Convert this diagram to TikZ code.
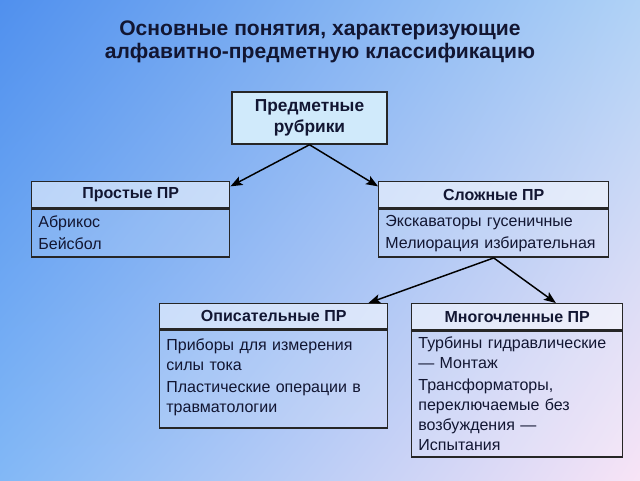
\documentclass[tikz,border=0pt]{standalone}
\usepackage{fontspec}
\setmainfont{Liberation Sans}
\usepackage{xcolor}
\usetikzlibrary{arrows,arrows.meta,positioning,calc,shadings}
\definecolor{bgul}{RGB}{80,144,238}
\definecolor{bgur}{RGB}{176,210,246}
\definecolor{bgll}{RGB}{130,184,246}
\definecolor{bglr}{RGB}{248,228,246}
\definecolor{inkblue}{RGB}{18,22,50}
\definecolor{rootfill}{RGB}{208,234,251}
\tikzset{
  basenode/.style = {draw=black!85, line width=1.1pt, text=inkblue, text opacity=1},
  root_node/.style = {basenode, rectangle, fill=rootfill, align=center, minimum width=116.25pt, minimum height=39pt,
                      font=\fontsize{13}{15.75}\selectfont\bfseries},
  hdr_node/.style = {basenode, rectangle, fill=white, fill opacity=0.55, anchor=north west, inner sep=0pt,
                     minimum height=19.5pt, font=\fontsize{12}{14}\selectfont\bfseries},
  body_node/.style = {basenode, rectangle, fill=white, fill opacity=0.14, align=left, inner xsep=5pt, inner ysep=3pt,
                      font=\fontsize{12}{15}\selectfont},
  link/.style = {-{Stealth[length=9pt,width=7pt,inset=2pt]}, line width=1.1pt, black},
}
\begin{document}
\begin{tikzpicture}[x=0.75pt,y=-0.75pt]
    \shade[upper left=bgul, upper right=bgur, lower left=bgll, lower right=bglr] (0,0) rectangle (640,480);
    \useasboundingbox (0,0) rectangle (640,480);
    \node [align=center, text=inkblue, font=\fontsize{15.8}{17.25}\selectfont\bfseries] (title) at (320,42)
        {Основные понятия, характеризующие\\алфавитно-предметную классификацию};
    \node [root_node] (root) at (309.5,118) {Предметные\\рубрики};

    \node [hdr_node, minimum width=148.5pt] (simple_hdr) at (31,181) {Простые ПР};
    \node [body_node, below=0pt of simple_hdr, text width=138.5pt, minimum height=36pt] (simple_body)
        {Абрикос\\[1.5pt]Бейсбол};

    \node [hdr_node, minimum width=172.5pt] (complex_hdr) at (378,181) {Сложные ПР};
    \node [body_node, below=0pt of complex_hdr, text width=162.5pt, minimum height=36pt] (complex_body)
        {Экскаваторы гусеничные\\[1.5pt]Мелиорация избирательная};

    \node [hdr_node, minimum width=171pt, minimum height=18.75pt] (descr_hdr) at (159,303) {Описательные ПР};
    \node [body_node, below=0pt of descr_hdr, text width=161pt, minimum height=73.5pt] (descr_body)
        {Приборы для измерения\\силы тока\\[1.5pt]Пластические операции в\\травматологии\\[-9pt]\mbox{}};

    \node [hdr_node, minimum width=158.25pt] (multi_hdr) at (411,303) {Многочленные ПР};
    \node [body_node, below=0pt of multi_hdr, text width=148.25pt, minimum height=94.5pt] (multi_body)
        {Турбины гидравлические\\--- Монтаж\\[1.5pt]Трансформаторы,\\переключаемые без\\возбуждения ---\\Испытания};

    \draw [link] (root.south) -- ($(simple_hdr.north east)+(0,-4pt)$);
    \draw [link] (root.south) -- ($(complex_hdr.north west)+(0,-4pt)$);
    \draw [link] (complex_body.south) -- ($(descr_hdr.north east)+(-15pt,0)$);
    \draw [link] (complex_body.south) -- ($(multi_hdr.north)+(29pt,0)$);
\end{tikzpicture}
\end{document}
